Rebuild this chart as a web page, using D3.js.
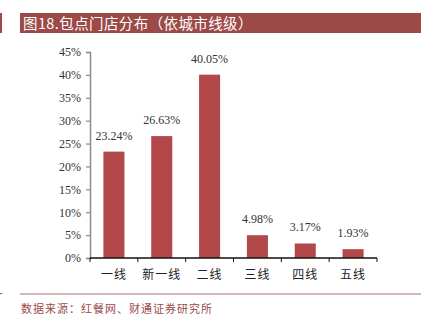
<!DOCTYPE html>
<html>
<head>
<meta charset="utf-8">
<script src="https://cdn.jsdelivr.net/npm/d3@7/dist/d3.min.js"></script>
<style>
  html, body { margin: 0; padding: 0; background: #fff; }
  svg { display: block; }
</style>
</head>
<body>
<svg id="chart" width="423" height="327"></svg>
<script>
// 包点门店分布（按城市线级）
const categories = ["一线", "新一线", "二线", "三线", "四线", "五线"];
const shares = [23.24, 26.63, 40.05, 4.98, 3.17, 1.93];
const yTicks = [0, 5, 10, 15, 20, 25, 30, 35, 40, 45];

const titleText = "图18.包点门店分布（依城市线级）";
const sourceText = "数据来源：红餐网、财通证券研究所";

const W = 423, H = 327;
const plot = { left: 90, right: 377, top: 52, bottom: 258 };

const svg = d3.select("#chart");
const cjk = "'Noto Sans CJK SC', 'Noto Sans', sans-serif";
const serif = "'Liberation Serif', 'DejaVu Serif', serif";

// Title bar
svg.append("rect").attr("x", 0).attr("y", 13).attr("width", 2).attr("height", 20).attr("fill", "#9b4a47");
svg.append("rect").attr("x", 20).attr("y", 13).attr("width", 401).attr("height", 20).attr("fill", "#9b4a47");
svg.append("text")
  .attr("x", 23).attr("y", 28.5)
  .attr("fill", "#fff")
  .style("font-family", cjk)
  .style("font-size", "14.5px")
  .style("letter-spacing", "0.4px")
  .text(titleText);

// Scales
const x = d3.scaleBand().domain(categories).range([plot.left, plot.right]).paddingInner(0.56).paddingOuter(0.28);
const y = d3.scaleLinear().domain([0, 45]).range([plot.bottom, plot.top]);

// Y axis
const yAxis = svg.append("g")
  .attr("transform", `translate(${plot.left},0)`)
  .call(d3.axisLeft(y).tickValues(yTicks).tickFormat(d => d + "%").tickSize(4).tickPadding(5));
yAxis.select(".domain").attr("stroke", "#8c8c8c").attr("stroke-width", 1.5);
yAxis.selectAll(".tick line").attr("stroke", "#8c8c8c").attr("stroke-width", 1.2);
yAxis.selectAll(".tick text")
  .attr("fill", "#333")
  .style("font-family", serif)
  .style("font-size", "12px");

// Bars
svg.append("g").selectAll("rect")
  .data(shares)
  .join("rect")
  .attr("x", (d, i) => x(categories[i]))
  .attr("y", d => y(d))
  .attr("width", x.bandwidth())
  .attr("height", d => y(0) - y(d))
  .attr("fill", "#b2484a");

// Value labels
svg.append("g").selectAll("text")
  .data(shares)
  .join("text")
  .attr("x", (d, i) => x(categories[i]) + x.bandwidth() / 2)
  .attr("y", d => y(d) - 12)
  .attr("text-anchor", "middle")
  .attr("fill", "#333")
  .style("font-family", serif)
  .style("font-size", "12px")
  .text(d => d.toFixed(2) + "%");

// X axis with ticks at category boundaries
const bounds = d3.range(categories.length + 1).map(i => plot.left + i * x.step());
const xg = svg.append("g");
xg.append("line")
  .attr("x1", plot.left).attr("x2", plot.right)
  .attr("y1", y(0)).attr("y2", y(0))
  .attr("stroke", "#111").attr("stroke-width", 1.3);
xg.selectAll("line.tk")
  .data(bounds)
  .join("line")
  .attr("class", "tk")
  .attr("x1", d => d).attr("x2", d => d)
  .attr("y1", y(0)).attr("y2", y(0) + 4)
  .attr("stroke", "#111").attr("stroke-width", 1);
xg.selectAll("text")
  .data(categories)
  .join("text")
  .attr("x", d => x(d) + x.bandwidth() / 2)
  .attr("y", 279)
  .attr("text-anchor", "middle")
  .attr("fill", "#222")
  .style("font-family", cjk)
  .style("font-size", "12px")
  .style("letter-spacing", "1px")
  .text(d => d);

// Footer
svg.append("rect").attr("x", 0).attr("y", 293).attr("width", 2).attr("height", 1.2).attr("fill", "#a86060");
svg.append("line")
  .attr("x1", 20).attr("x2", 421).attr("y1", 294).attr("y2", 294)
  .attr("stroke", "#b07070").attr("stroke-width", 1.2);
svg.append("text")
  .attr("x", 21).attr("y", 313)
  .attr("fill", "#9a4a4a")
  .style("font-family", cjk)
  .style("font-size", "11px")
  .style("letter-spacing", "1px")
  .text(sourceText);
</script>
</body>
</html>
